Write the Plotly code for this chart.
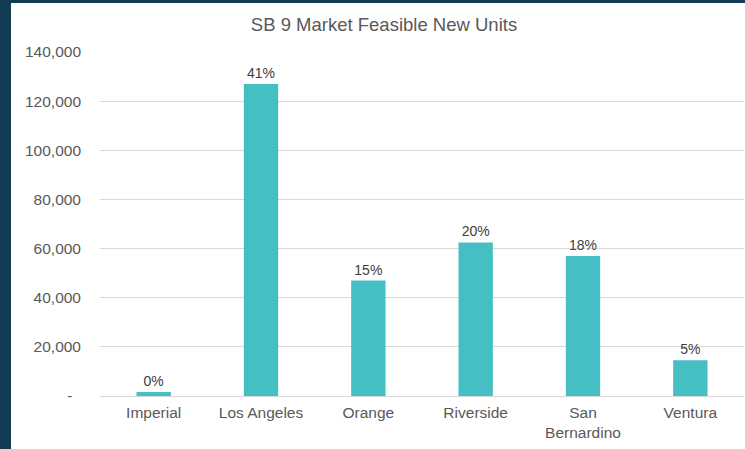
import plotly.graph_objects as go

counties = ["Imperial", "Los Angeles", "Orange", "Riverside", "San<br>Bernardino", "Ventura"]
units = [1600, 127000, 47000, 62500, 57000, 14600]
pct_labels = ["0%", "41%", "15%", "20%", "18%", "5%"]
y_tickvals = [0, 20000, 40000, 60000, 80000, 100000, 120000, 140000]
y_ticktext = ["-\u00a0\u00a0", "20,000", "40,000", "60,000", "80,000", "100,000", "120,000", "140,000"]

W, H = 745, 449
L, R, T, B = 100, 1, 52, 53
pw, ph = W - L - R, H - T - B

def px_x(p):
    return (p - L) / pw

def px_y(p):
    return (H - B - p) / ph

fig = go.Figure(go.Bar(
    x=counties, y=units, text=pct_labels, textposition="outside",
    textfont=dict(size=14, color="#404040", family="Liberation Sans, Arial, sans-serif"),
    marker=dict(color="#45bfc4", line=dict(width=0)),
    cliponaxis=False,
))

fig.update_layout(
    width=W, height=H,
    margin=dict(l=L, r=R, t=T, b=B),
    paper_bgcolor="white", plot_bgcolor="white",
    font=dict(family="Liberation Sans, Arial, sans-serif", color="#595959"),
    title=dict(text="SB 9 Market Feasible New Units", x=(384) / W, xanchor="center",
               y=1 - 24.5 / H, yanchor="middle",
               font=dict(size=18.5, color="#595959")),
    bargap=0.68,
    showlegend=False,
    shapes=[
        dict(type="rect", xref="paper", yref="paper", x0=px_x(-5), x1=px_x(11),
             y0=px_y(H + 5), y1=px_y(-5), fillcolor="#133c55", line=dict(width=0), layer="above"),
        dict(type="rect", xref="paper", yref="paper", x0=px_x(-5), x1=px_x(W + 5),
             y0=px_y(3), y1=px_y(-5), fillcolor="#133c55", line=dict(width=0), layer="above"),
    ],
)
fig.update_xaxes(tickfont=dict(size=15.5, color="#595959"), showline=True,
                 linecolor="#d9d9d9", linewidth=1, ticks="outside", ticklen=2, tickcolor="white")
fig.update_yaxes(range=[0, 140000], tickvals=y_tickvals, ticktext=y_ticktext,
                 tickfont=dict(size=15.5, color="#595959"), gridcolor="#d9d9d9",
                 gridwidth=1, zeroline=False, ticklabelstandoff=18)

fig.write_html("out.html", config={"displayModeBar": False},
               post_script="document.body.style.margin='0';document.body.style.overflow='hidden';")
